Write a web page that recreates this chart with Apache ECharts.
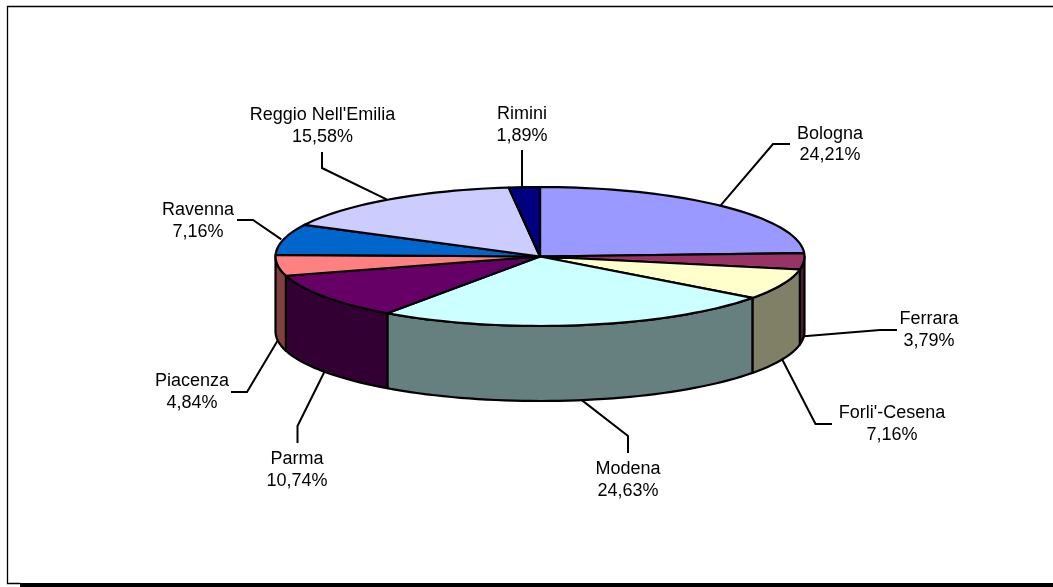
<!DOCTYPE html>
<html>
<head>
<meta charset="utf-8">
<style>html,body{margin:0;padding:0;background:#fff}#chart{width:1053px;height:587px}</style>
<script src="https://cdn.jsdelivr.net/npm/echarts@6/dist/echarts.min.js"></script>
</head>
<body>
<div id="chart"></div>
<script>
// Data
const provinces = ['Bologna', 'Ferrara', "Forli'-Cesena", 'Modena', 'Parma', 'Piacenza', 'Ravenna', "Reggio Nell'Emilia", 'Rimini'];
const shares = [24.21, 3.79, 7.16, 24.63, 10.74, 4.84, 7.16, 15.58, 1.89];

// Styles
const topColors = ['#9999FF', '#993366', '#FFFFCC', '#CCFFFF', '#660066', '#FF8080', '#0066CC', '#CCCCFF', '#000080'];
const sideColors = ['#4D4D80', '#4D1933', '#808066', '#668080', '#330033', '#804040', '#003366', '#666680', '#000040'];

// Layout (pixels): label centres and leader elbows / ends
const labelCentres = [[830, 144.5], [929, 330], [892, 424], [628, 480], [297, 470], [192, 392], [198, 221], [322.5, 126], [522, 125]];
const leaderBends = [
  [[773, 144], [790, 144]],
  [[880, 330], [897, 330]],
  [[815.5, 424], [832, 424]],
  [[628, 436], [628, 453]],
  [[297.5, 426], [297.5, 443]],
  [[247, 392], [231, 392]],
  [[253, 220], [237, 220]],
  [[322, 168], [322, 152]],
  [[522, 150]]
];
// leader starts on the lower rim for wedges on the front of the pie
const front = [false, true, true, true, true, true, false, false, false];

const RX_PX = 264.5, RY_PX = 69.5, DEPTH_PX = 75, BACK_SHIFT_PX = 2.3;
const depth = DEPTH_PX / RY_PX;
const total = shares.reduce((a, b) => a + b, 0);
const wedgeRange = i => {
  const before = shares.slice(0, i).reduce((a, b) => a + b, 0);
  return [before / total * 2 * Math.PI, (before + shares[i]) / total * 2 * Math.PI];
};
const rim = (api, a, drop) => api.coord([Math.sin(a), Math.cos(a) - (drop || 0)]);
const arc = (api, a0, a1, drop) => {
  const n = Math.max(2, Math.ceil((a1 - a0) / 0.035));
  const pts = [];
  for (let k = 0; k <= n; k++) pts.push(rim(api, a0 + (a1 - a0) * k / n, drop));
  return pts;
};
const lineStyle = { stroke: '#000', lineWidth: 2.2, lineJoin: 'round' };
const rows = shares.map((v, i) => ({ name: provinces[i], value: [i, v] }));

function sideItem(params, api) {
  const i = params.dataIndex;
  const r = wedgeRange(i);
  const a0 = Math.max(r[0], Math.PI / 2), a1 = Math.min(r[1], 1.5 * Math.PI);
  if (a1 <= a0) return { type: 'group', children: [] };
  const pts = arc(api, a0, a1, 0).concat(arc(api, a0, a1, depth).reverse());
  return { type: 'polygon', shape: { points: pts }, style: Object.assign({ fill: sideColors[i] }, lineStyle) };
}
function topItem(params, api) {
  const i = params.dataIndex;
  const r = wedgeRange(i);
  const pts = [api.coord([0, 0])].concat(arc(api, r[0], r[1], 0));
  return { type: 'polygon', shape: { points: pts }, style: Object.assign({ fill: topColors[i] }, lineStyle) };
}
function leaderItem(params, api) {
  const i = params.dataIndex;
  const r = wedgeRange(i);
  const start = rim(api, (r[0] + r[1]) / 2, front[i] ? depth : 0);
  if (!front[i]) start[0] -= BACK_SHIFT_PX;
  return {
    type: 'polyline',
    shape: { points: [start].concat(leaderBends[i]) },
    style: { stroke: '#000', lineWidth: 2, fill: null }
  };
}
function labelItem(params, api) {
  const i = params.dataIndex;
  return {
    type: 'text',
    x: labelCentres[i][0], y: labelCentres[i][1],
    style: {
      text: provinces[i] + '\n' + shares[i].toFixed(2).replace('.', ',') + '%',
      fill: '#000', font: '18px "Liberation Sans", Arial, sans-serif',
      lineHeight: 21.5, align: 'center', verticalAlign: 'middle'
    }
  };
}
const custom = (renderItem, z) => ({
  type: 'custom', renderItem, data: rows, z, clip: false, silent: true,
  encode: { x: 0, y: 1 }
});

const chart = echarts.init(document.getElementById('chart'), null, { renderer: 'canvas' });
chart.setOption({
  animation: false,
  backgroundColor: '#fff',
  grid: { left: 275.5, top: 187, width: RX_PX * 2, height: RY_PX * 2 },
  xAxis: { type: 'value', min: -1, max: 1, show: false },
  yAxis: { type: 'value', min: -1, max: 1, show: false },
  series: [custom(leaderItem, 1), custom(sideItem, 2), custom(topItem, 3), custom(labelItem, 4)],
  graphic: [
    { type: 'polyline', shape: { points: [[1053, 6.5], [7.5, 6.5], [7.5, 583.5], [20, 583.5]] }, style: { stroke: '#000', lineWidth: 1.3, fill: null }, silent: true },
    { type: 'rect', shape: { x: 20, y: 583, width: 1033, height: 4 }, style: { fill: '#000' }, silent: true }
  ]
});
</script>
</body>
</html>
